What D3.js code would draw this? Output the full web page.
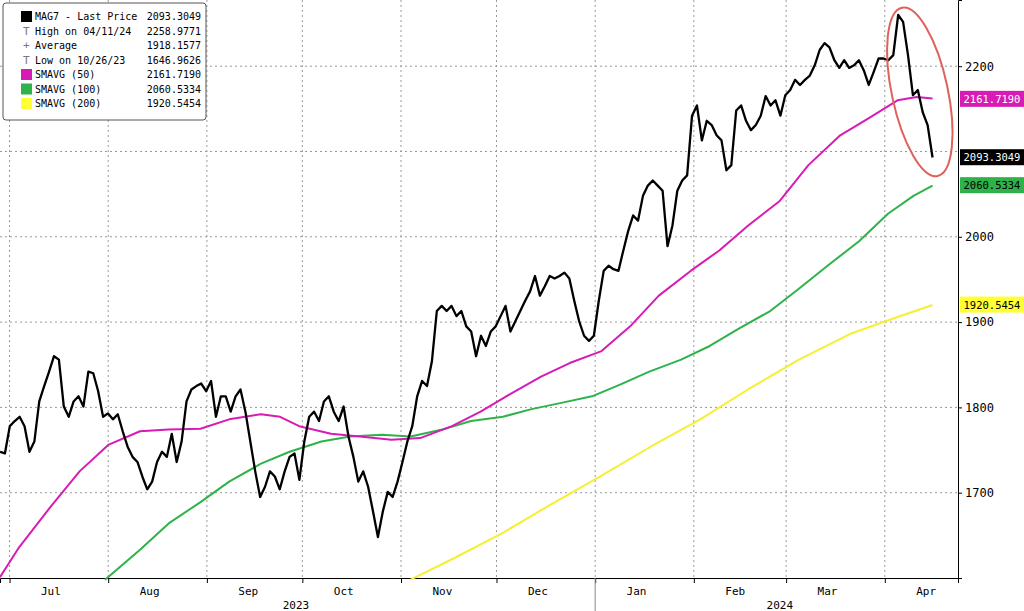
<!DOCTYPE html>
<html><head><meta charset="utf-8">
<script src="https://cdn.jsdelivr.net/npm/d3@7"></script>
<style>body{margin:0;background:#fff}text{font-family:"DejaVu Sans Mono",monospace}</style>
</head><body><div class="chart"></div>
<script>
const W = 1024, H = 611
const margin = {top: 0, right: 66, bottom: 33, left: 0}
const width = W - margin.left - margin.right, height = H - margin.top - margin.bottom

// black line, evenly spaced from priceStart to priceEnd
const priceStart = "2023-06-28", priceEnd = "2024-04-16"
const price = [1748,1746,1778,1784,1789,1778,1748,1760,1807,1825,1842,1860,1856,1801,1789,1807,1813,1801,1842,1840,1819,1789,1793,1786,1792,1772,1754,1742,1736,1719,1704,1713,1736,1748,1742,1769,1736,1760,1807,1821,1825,1828,1819,1831,1789,1813,1813,1795,1813,1821,1795,1760,1725,1695,1707,1725,1719,1704,1725,1742,1746,1715,1760,1789,1795,1784,1807,1813,1795,1784,1801,1766,1742,1713,1725,1707,1678,1648,1678,1701,1695,1713,1736,1760,1778,1813,1831,1825,1854,1913,1919,1913,1919,1907,1913,1895,1889,1860,1884,1872,1889,1895,1907,1919,1889,1901,1913,1925,1936,1954,1931,1942,1954,1951,1954,1958,1951,1925,1901,1884,1878,1884,1925,1960,1966,1962,1960,1984,2007,2025,2019,2048,2060,2066,2060,2054,1989,2013,2054,2066,2072,2142,2154,2113,2136,2131,2119,2113,2078,2084,2148,2154,2136,2125,2131,2142,2165,2154,2160,2142,2166,2172,2184,2178,2184,2189,2201,2219,2227,2222,2207,2198,2207,2198,2201,2207,2195,2178,2193,2209,2209,2207,2213,2260,2252,2213,2166,2172,2146,2131,2093]

const sma50Dates = ["2023-06-28","2023-07-04","2023-07-14","2023-07-23","2023-08-01","2023-08-11","2023-08-20","2023-08-30","2023-09-08","2023-09-18","2023-09-24","2023-09-30","2023-10-10","2023-10-19","2023-10-29","2023-11-07","2023-11-17","2023-11-26","2023-12-05","2023-12-15","2023-12-24","2024-01-03","2024-01-12","2024-01-21","2024-01-31","2024-02-09","2024-02-18","2024-02-28","2024-03-08","2024-03-18","2024-03-27","2024-04-05","2024-04-11","2024-04-16"]
const sma50 = [1601,1636,1684,1725,1756,1772,1774,1775,1786,1792,1789,1778,1769,1766,1762,1764,1778,1795,1815,1836,1852,1866,1895,1931,1960,1984,2013,2042,2084,2119,2139,2160,2164,2162]

const sma100Dates = ["2023-07-31","2023-08-11","2023-08-20","2023-08-30","2023-09-08","2023-09-18","2023-09-27","2023-10-07","2023-10-16","2023-10-26","2023-11-04","2023-11-14","2023-11-23","2023-12-03","2023-12-12","2023-12-21","2023-12-31","2024-01-09","2024-01-18","2024-01-28","2024-02-06","2024-02-15","2024-02-25","2024-03-05","2024-03-14","2024-03-24","2024-04-02","2024-04-10","2024-04-16"]
const sma100 = [1598,1633,1664,1689,1713,1734,1748,1760,1766,1768,1766,1774,1784,1789,1798,1805,1813,1827,1842,1856,1872,1892,1913,1939,1966,1995,2027,2048,2060]

const sma200Dates = ["2023-11-04","2023-11-17","2023-12-03","2023-12-18","2024-01-03","2024-01-18","2024-02-03","2024-02-18","2024-03-05","2024-03-21","2024-04-05","2024-04-16"]
const sma200 = [1598,1622,1653,1686,1720,1753,1786,1821,1856,1886,1906,1920]

const yTicks = [1700,1800,1900,2000,2100,2200]
const yLabels = [1700,1800,1900,2000,2200]
const months = ["Jul","Aug","Sep","Oct","Nov","Dec","Jan","Feb","Mar","Apr"]
const years = ["2023","2024"]
const legendNames = ["MAG7 - Last Price","High on 04/11/24","Average","Low on 10/26/23","SMAVG (50)","SMAVG (100)","SMAVG (200)"]
const legendVals = ["2093.3049","2258.9771","1918.1577","1646.9626","2161.7190","2060.5334","1920.5454"]
const tags = [{v:2161.7190,c:"#d81bb5",t:"#fff"},{v:2093.3049,c:"#000",t:"#fff"},{v:2060.5334,c:"#2fb24a",t:"#000"},{v:1920.5454,c:"#ffff33",t:"#000"}]

const svg = d3.select(".chart").append("svg").attr("width", W).attr("height", H)
const g = svg.append("g").attr("transform", `translate(${margin.left},${margin.top})`)
const p = d3.timeParse("%Y-%m-%d")
const x = d3.scaleTime().domain([p("2023-06-28"), p("2024-04-24")]).range([0, width])
const y = d3.scaleLinear().domain([1600, 2277.6]).range([height, 0])

// grid
const monthStarts = d3.timeMonth.range(p("2023-07-01"), p("2024-04-02"))
g.selectAll(".vg").data(monthStarts).enter().append("line")
  .attr("x1", d => x(d)).attr("x2", d => x(d)).attr("y1", 0).attr("y2", height)
  .attr("stroke", "#999").attr("stroke-dasharray", "2,3")
g.selectAll(".hg").data(yTicks).enter().append("line")
  .attr("x1", 0).attr("x2", width).attr("y1", d => y(d)).attr("y2", d => y(d))
  .attr("stroke", "#999").attr("stroke-dasharray", "2,3")

// axes
const yAxis = d3.axisRight(y).tickValues(yLabels).tickSize(4).tickFormat(d3.format("d"))
g.append("g").attr("transform", `translate(${width},0)`).call(yAxis)
  .call(a => a.selectAll("text").attr("font-size", 12))
const xAxis = d3.axisBottom(x).tickValues(monthStarts).tickSize(5).tickFormat("")
g.append("g").attr("transform", `translate(0,${height})`).call(xAxis)
g.selectAll(".ml").data(monthStarts).enter().append("text")
  .attr("x", (d, i) => x(d3.timeDay.offset(d, 13))).attr("y", height + 17)
  .attr("text-anchor", "middle").attr("font-size", 11).text((d, i) => months[i])
g.selectAll(".yl").data(years).enter().append("text")
  .attr("x", (d, i) => i == 0 ? x(p("2023-09-29")) : x(p("2024-02-28"))).attr("y", height + 31)
  .attr("text-anchor", "middle").attr("font-size", 11).text(d => d)
g.append("line").attr("x1", x(p("2024-01-01"))).attr("x2", x(p("2024-01-01")))
  .attr("y1", height).attr("y2", H).attr("stroke", "#888")

// lines
const line = d3.line().x(d => x(d[0])).y(d => y(d[1]))
const tp = d3.scaleLinear().domain([0, price.length - 1]).range([+p(priceStart), +p(priceEnd)])
const series = [
  {d: sma200Dates.map((t, i) => [p(t), sma200[i]]), c: "#f5f032"},
  {d: sma100Dates.map((t, i) => [p(t), sma100[i]]), c: "#2fb24a"},
  {d: sma50Dates.map((t, i) => [p(t), sma50[i]]), c: "#d81bb5"},
  {d: price.map((v, i) => [new Date(tp(i)), v]), c: "#000", w: 2.3}
]
g.selectAll(".ln").data(series).enter().append("path")
  .attr("d", s => line(s.d)).attr("fill", "none").attr("stroke", s => s.c)
  .attr("stroke-width", s => s.w || 2).attr("stroke-linejoin", "round")

// right tags
const tg = g.selectAll(".tag").data(tags).enter().append("g")
  .attr("transform", d => `translate(${width + 2},${y(d.v)})`)
tg.append("rect").attr("x", 0).attr("y", -8).attr("width", 64).attr("height", 16).attr("fill", d => d.c)
tg.append("text").attr("x", 32).attr("y", 4).attr("text-anchor", "middle").attr("font-size", 10.5)
  .attr("fill", d => d.t).text(d => d3.format(".4f")(d.v))

// highlight ellipse
const ec = [x(p("2024-04-12")), y(2170)]
g.append("ellipse").attr("cx", ec[0]).attr("cy", ec[1]).attr("rx", 28).attr("ry", 86)
  .attr("transform", `rotate(-12,${ec[0]},${ec[1]})`)
  .attr("fill", "none").attr("stroke", "#e0605a").attr("stroke-width", 2)

// legend
const lg = svg.append("g").attr("transform", "translate(3,3)")
lg.append("rect").attr("width", 203).attr("height", 117).attr("rx", 3).attr("fill", "#fff").attr("stroke", "#555")
const swatch = ["#000", null, null, null, "#d81bb5", "#2fb24a", "#ffff33"]
legendNames.forEach((n, i) => {
  const yy = 17 + i * 14.5
  if (swatch[i]) lg.append("rect").attr("x", 18).attr("y", yy - 9).attr("width", 11).attr("height", 11).attr("fill", swatch[i])
  else lg.append("text").attr("x", 20).attr("y", yy).attr("font-size", 11).attr("fill", "#777").text(i == 2 ? "+" : "T")
  lg.append("text").attr("x", 32).attr("y", yy).attr("font-size", 10).text(n)
  lg.append("text").attr("x", 198).attr("y", yy).attr("text-anchor", "end").attr("font-size", 10).text(legendVals[i])
})
</script></body></html>
